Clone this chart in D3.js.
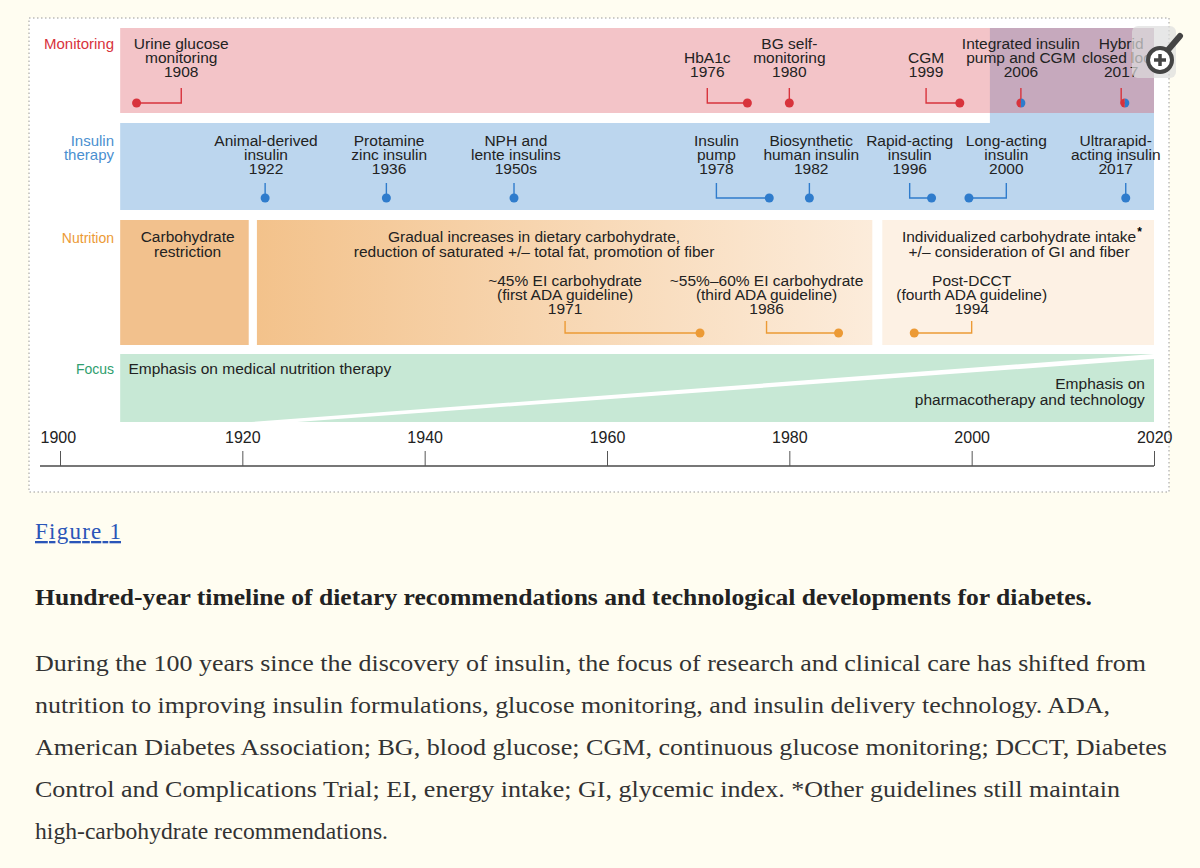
<!DOCTYPE html>
<html><head><meta charset="utf-8">
<script src="https://cdn.jsdelivr.net/npm/d3@7"></script>
<style>
body{margin:0;background:#fffdf1;}
svg{display:block}
</style></head><body>
<svg id="c" width="1200" height="868"></svg>
<script>
const axisTicks=[1900,1920,1940,1960,1980,2000,2020];
const monLabels=[["Urine glucose","monitoring","1908"],["HbA1c","1976"],["BG self-","monitoring","1980"],["CGM","1999"],["Integrated insulin","pump and CGM","2006"],["Hybrid","closed loop","2017"]];
const monLabelYear=[1913.3,1971,1980,1995,2005.4,2016.4];
const monDotYear=[1908.4,1975.4,1980,1998.7,2005.4,2016.8];
const monDual=[false,false,false,false,true,true];
const insLabels=[["Animal-derived","insulin","1922"],["Protamine","zinc insulin","1936"],["NPH and","lente insulins","1950s"],["Insulin","pump","1978"],["Biosynthetic","human insulin","1982"],["Rapid-acting","insulin","1996"],["Long-acting","insulin","2000"],["Ultrarapid-","acting insulin","2017"]];
const insLabelYear=[1922.6,1936.1,1950,1972,1982.4,1993.2,2003.8,2015.8];
const insElbowYear=[1922.5,1935.8,1949.8,1972,1982.2,1993.2,2003.8,2016.9];
const insDotYear=[1922.5,1935.8,1949.8,1977.8,1982.2,1995.6,1999.7,2016.9];
const nutLabels=[["~45% EI carbohydrate","(first ADA guideline)","1971"],["~55%–60% EI carbohydrate","(third ADA guideline)","1986"],["Post-DCCT","(fourth ADA guideline)","1994"]];
const nutLabelYear=[1955.4,1977.5,2000];
const nutDotYear=[1970.2,1985.4,1993.7];
const nutSegments=[[1906.6,1920.7],[1921.6,1989.1],[1990.2,2020]];
const bandStart=1906.6, bandEnd=2020, overlapStart=2002;

const svg=d3.select("#c");
const x=d3.scaleLinear().domain([1900,2020]).range([60,1154]);
const F="'Liberation Sans',Arial,sans-serif";
const red="#d8333c",blue="#2f7ccc",orange="#ec9a35",green="#2f9e6e";

svg.append("rect").attr("x",29).attr("y",18).attr("width",1140).attr("height",474).attr("fill","#fff").attr("stroke","#9a9a9a").attr("stroke-dasharray","1.5,2.5");
svg.append("rect").attr("x",35).attr("y",24).attr("width",1128).attr("height",448).attr("rx",6).attr("fill","#fff");

const defs=svg.append("defs");
const g1=defs.append("linearGradient").attr("id","ng");
g1.append("stop").attr("offset","0").attr("stop-color","#f3c28b");
g1.append("stop").attr("offset","1").attr("stop-color","#fcecdb");

svg.append("rect").attr("x",x(bandStart)).attr("y",28).attr("width",x(bandEnd)-x(bandStart)).attr("height",85).attr("fill","#f3c4c8");
svg.append("rect").attr("x",x(bandStart)).attr("y",123).attr("width",x(bandEnd)-x(bandStart)).attr("height",87).attr("fill","#bcd6ee");
svg.append("rect").attr("x",x(overlapStart)).attr("y",113).attr("width",x(bandEnd)-x(overlapStart)).attr("height",10).attr("fill","#bcd6ee");
svg.append("rect").attr("x",x(overlapStart)).attr("y",28).attr("width",x(bandEnd)-x(overlapStart)).attr("height",85).attr("fill","#c6a9bd");
const segFill=["#f2c18d","url(#ng)","#fdf1e4"];
nutSegments.forEach((s,i)=>svg.append("rect").attr("x",x(s[0])).attr("y",220).attr("width",x(s[1])-x(s[0])).attr("height",125).attr("fill",segFill[i]));
svg.append("rect").attr("x",x(bandStart)).attr("y",354).attr("width",x(bandEnd)-x(bandStart)).attr("height",68).attr("fill","#c7e8d5");
svg.append("polygon").attr("points",[[x(1921),422],[x(2020),354],[x(2020),359],[x(1926),422]].join(" ")).attr("fill","#fff");

function txt(xx,y,lines,opts={}){
  const t=svg.append("text").attr("x",xx).attr("y",y).attr("font-family",F).attr("font-size",opts.size||15.5)
   .attr("text-anchor",opts.anchor||"middle").attr("fill",opts.fill||"#222");
  lines.forEach((l,i)=>t.append("tspan").attr("x",xx).attr("dy",i?opts.lh||14:0).text(l));
  return t;
}
txt(114,49,["Monitoring"],{anchor:"end",fill:red,size:15});
txt(114,146,["Insulin","therapy"],{anchor:"end",fill:"#4a8fd0",size:15});
txt(114,243,["Nutrition"],{anchor:"end",fill:orange,size:14});
txt(114,374,["Focus"],{anchor:"end",fill:green,size:14});

function events(labels,ly,ey,dy,col,topY,elbTop,dotY){
  labels.forEach((L,i)=>{
    const yy=topY+(3-L.length)*14;
    txt(x(ly[i]),yy,L);
    svg.append("path").attr("d",`M${x(ey[i])},${elbTop}V${dotY}H${x(dy[i])}`).attr("fill","none").attr("stroke",col).attr("stroke-width",1.4);
  });
}
events(monLabels,monLabelYear,monLabelYear,monDotYear,red,49,88,103);
events(insLabels,insLabelYear,insElbowYear,insDotYear,blue,146,183,198);
events(nutLabels,nutLabelYear,nutLabelYear,nutDotYear,orange,286,321,333);
monDotYear.forEach((d,i)=>{
  const cx=x(d);
  if(monDual[i]){
    svg.append("path").attr("d",`M${cx},98.5A4.5,4.5 0 0 0 ${cx},107.5Z`).attr("fill",red);
    svg.append("path").attr("d",`M${cx},98.5A4.5,4.5 0 0 1 ${cx},107.5Z`).attr("fill",blue);
  } else svg.append("circle").attr("cx",cx).attr("cy",103).attr("r",4.5).attr("fill",red);
});
insDotYear.forEach(d=>svg.append("circle").attr("cx",x(d)).attr("cy",198).attr("r",4.5).attr("fill",blue));
nutDotYear.forEach(d=>svg.append("circle").attr("cx",x(d)).attr("cy",333).attr("r",4.5).attr("fill",orange));

txt(x(1914),242,["Carbohydrate","restriction"],{lh:15});
txt(x(1952),242,["Gradual increases in dietary carbohydrate,","reduction of saturated +/– total fat, promotion of fiber"],{lh:15});
const it=txt(x(2005.2),242,["Individualized carbohydrate intake","+/– consideration of GI and fiber"],{lh:15});
const bb=it.select("tspan").node().getBBox();
svg.append("text").attr("x",bb.x+bb.width+1).attr("y",236).attr("font-family",F).attr("font-size",12).attr("font-weight","bold").text("*");
txt(x(1907.5),374,["Emphasis on medical nutrition therapy"],{anchor:"start"});
txt(x(2019),389,["Emphasis on","pharmacotherapy and technology"],{anchor:"end",lh:16});

const ax=svg.append("g").attr("transform","translate(0,466)")
 .call(d3.axisTop(x).tickValues(axisTicks).tickFormat(d3.format("d")).tickSize(15).tickPadding(8).tickSizeOuter(0));
ax.select(".domain").attr("stroke","#777").attr("stroke-width",2).attr("d",`M40,0H${x(2020)}`);
ax.selectAll(".tick line").attr("stroke","#555");
ax.selectAll("text").attr("font-family",F).attr("font-size",16).attr("fill","#222");
ax.selectAll(".tick").filter(d=>d===1900).select("text").attr("text-anchor","start").attr("dx",-20);
ax.selectAll(".tick").filter(d=>d===2020).select("text").attr("text-anchor","end").attr("dx",18);

const ic=svg.append("g").attr("transform","translate(1160,60)");
ic.append("rect").attr("x",-28).attr("y",-34).attr("width",44).attr("height",52).attr("rx",6).attr("fill","#ddd").attr("opacity",0.7);
ic.append("line").attr("x1",8).attr("y1",-10).attr("x2",20).attr("y2",-24).attr("stroke","#444").attr("stroke-width",6).attr("stroke-linecap","round");
ic.append("circle").attr("cx",0).attr("cy",0).attr("r",12).attr("fill","#fff").attr("stroke","#444").attr("stroke-width",4);
ic.append("path").attr("d","M-6,0H6M0,-6V6").attr("stroke","#444").attr("stroke-width",3.5);

const S="'Liberation Serif','DejaVu Serif',serif";
svg.append("text").attr("x",35).attr("y",539).attr("font-family",S).attr("font-size",23).attr("fill","#2a55b8").attr("text-decoration","underline").attr("textLength",86).text("Figure 1");
svg.append("text").attr("x",35).attr("y",605).attr("font-family",S).attr("font-size",23).attr("font-weight","bold").attr("fill","#222").attr("textLength",1057).attr("lengthAdjust","spacingAndGlyphs").text("Hundred-year timeline of dietary recommendations and technological developments for diabetes.");
const para=["During the 100 years since the discovery of insulin, the focus of research and clinical care has shifted from","nutrition to improving insulin formulations, glucose monitoring, and insulin delivery technology. ADA,","American Diabetes Association; BG, blood glucose; CGM, continuous glucose monitoring; DCCT, Diabetes","Control and Complications Trial; EI, energy intake; GI, glycemic index. *Other guidelines still maintain","high-carbohydrate recommendations."];
const paraW=[1111,1075,1132,1085,353];
para.forEach((p,i)=>svg.append("text").attr("x",35).attr("y",671+i*42).attr("font-family",S).attr("font-size",23).attr("fill","#333").attr("textLength",paraW[i]).attr("lengthAdjust","spacingAndGlyphs").text(p));
</script></body></html>
